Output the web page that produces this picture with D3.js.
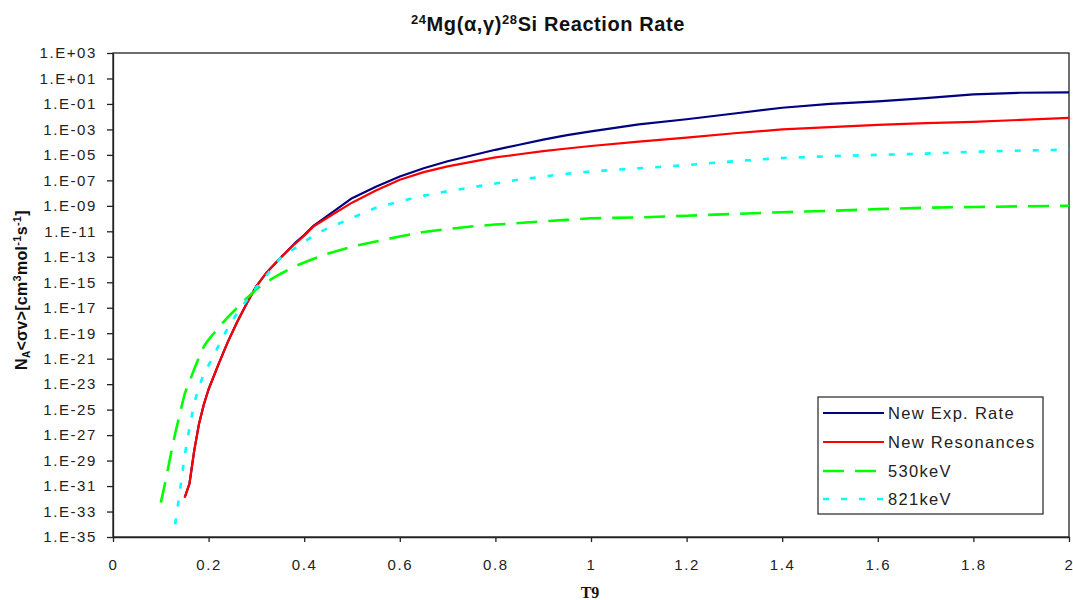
<!DOCTYPE html>
<html><head><meta charset="utf-8">
<script src="https://cdn.jsdelivr.net/npm/d3@7"></script>
<style>
html,body{margin:0;padding:0;background:#fff;}
svg{display:block;font-family:"Liberation Sans",Arial,sans-serif;}
</style></head><body>
<svg id="chart" width="1073" height="600"></svg>
<script>
// ---- data ----
const T9 = [0.10,0.11,0.12,0.13,0.14,0.15,0.16,0.17,0.18,0.19,0.20,0.22,0.24,0.26,0.28,0.30,0.32,0.35,0.38,0.40,0.42,0.45,0.50,0.55,0.60,0.65,0.70,0.75,0.80,0.85,0.90,0.95,1.00,1.1,1.2,1.3,1.4,1.5,1.6,1.7,1.8,1.9,2.0];

const newExpRate = [null,null,null,null,null,
  1.26e-32,1.58e-31,6.31e-29,7.94e-27,2.51e-25,3.98e-24,3.16e-22,2.0e-20,7.94e-19,2.24e-17,5.01e-16,5.01e-15,7.94e-14,
  1.12e-12,5.01e-12,2.82e-11,1.78e-10,3.98e-9,3.16e-8,2.0e-7,8.91e-7,3.16e-6,8.91e-6,2.51e-5,6.31e-5,1.58e-4,3.55e-4,7.08e-4,
  2.51e-3,6.31e-3,1.78e-2,5.01e-2,0.100,0.158,0.282,0.562,0.759,0.813];

const newResonances = [null,null,null,null,null,
  1.26e-32,1.58e-31,6.31e-29,7.94e-27,2.51e-25,3.98e-24,3.16e-22,2.0e-20,7.94e-19,2.24e-17,5.01e-16,5.01e-15,7.94e-14,
  1.0e-12,4.47e-12,2.51e-11,1.26e-10,1.78e-9,1.58e-8,1.12e-7,4.47e-7,1.26e-6,2.82e-6,6.31e-6,1.12e-5,2.0e-5,3.16e-5,5.01e-5,
  1.12e-4,2.24e-4,5.01e-4,1.0e-3,1.51e-3,2.29e-3,3.16e-3,3.98e-3,5.62e-3,7.94e-3];

const res530keV = [5.01e-33,2.51e-31,2.0e-29,1.26e-27,5.01e-26,
  1.78e-24,1.58e-23,1.58e-22,1.26e-21,8.91e-21,3.16e-20,2.51e-19,1.78e-18,1.0e-17,5.62e-17,2.82e-16,1.0e-15,4.47e-15,
  1.78e-14,3.55e-14,7.08e-14,1.78e-13,6.31e-13,1.58e-12,3.98e-12,8.91e-12,1.51e-11,2.40e-11,3.39e-11,4.47e-11,6.03e-11,7.94e-11,1.05e-10,
  1.23e-10,1.66e-10,2.34e-10,3.16e-10,4.07e-10,5.50e-10,7.08e-10,8.13e-10,9.12e-10,1.02e-9];

const res821keV = [null,null,null,1.0e-34,3.98e-32,
  2.51e-29,3.98e-27,3.16e-25,6.31e-24,6.31e-23,3.16e-22,8.91e-21,2.51e-19,3.98e-18,3.98e-17,3.98e-16,3.16e-15,7.94e-14,
  4.47e-13,1.41e-12,5.01e-12,1.78e-11,1.12e-10,7.08e-10,2.24e-9,6.31e-9,1.41e-8,2.82e-8,5.62e-8,1.17e-7,2.0e-7,3.31e-7,5.01e-7,
  8.91e-7,1.58e-6,3.16e-6,5.75e-6,7.94e-6,1.0e-5,1.26e-5,1.78e-5,2.19e-5,2.57e-5];

const seriesNames = ["New Exp. Rate","New Resonances","530keV","821keV"];
const xTickValues = [0,0.2,0.4,0.6,0.8,1,1.2,1.4,1.6,1.8,2];
const yTickExponents = [3,1,-1,-3,-5,-7,-9,-11,-13,-15,-17,-19,-21,-23,-25,-27,-29,-31,-33,-35];

// ---- drawing ----
const svg = d3.select("#chart");
const L = 113, R = 1069, Tp = 53, B = 537;

const x = d3.scaleLinear().domain([0, 2]).range([L, R]);
const y = d3.scaleLog().domain([1e-35, 1e3]).range([B, Tp]);

const seriesData = [newExpRate, newResonances, res530keV, res821keV];
const styles = [
  {color:"#000080", width:2.2, dash:null},
  {color:"#ff0000", width:2.2, dash:null},
  {color:"#00ff00", width:2.6, dash:"21,11"},
  {color:"#00ffff", width:2.6, dash:"6,12"}
];

// frame
svg.append("rect").attr("x", L).attr("y", Tp).attr("width", R - L).attr("height", B - Tp)
  .attr("fill", "none").attr("stroke", "#222").attr("stroke-width", 1.3);

// axes
const fmtY = v => {
  const e = Math.round(Math.log10(v));
  const a = Math.abs(e);
  return "1.E" + (e >= 0 ? "+" : "-") + (a < 10 ? "0" + a : "" + a);
};
const yAxis = d3.axisLeft(y).tickValues(yTickExponents.map(e => Math.pow(10, e)))
  .tickFormat(fmtY).tickSize(6).tickSizeOuter(0).tickPadding(10);
const gy = svg.append("g").attr("transform", `translate(${L},0)`).call(yAxis);
gy.select(".domain").attr("stroke", "#222").attr("stroke-width", 1.3);
gy.selectAll(".tick line").attr("stroke", "#222").attr("stroke-width", 1.3);
gy.selectAll("text").attr("font-size", 15).attr("fill", "#222")
  .attr("letter-spacing", 1.6).attr("font-family", '"Liberation Sans",Arial,sans-serif');

const fmtX = v => d3.format("~g")(v);
const xAxis = d3.axisBottom(x).tickValues(xTickValues).tickFormat(fmtX)
  .tickSize(5).tickSizeOuter(0);
const gx = svg.append("g").attr("transform", `translate(0,${B})`).call(xAxis);
gx.select(".domain").attr("stroke", "#222").attr("stroke-width", 1.3);
gx.selectAll(".tick line").attr("stroke", "#222").attr("stroke-width", 1.3);
gx.selectAll("text").attr("font-size", 15).attr("fill", "#222")
  .attr("letter-spacing", 1.6).attr("font-family", '"Liberation Sans",Arial,sans-serif')
  .attr("dy", null).attr("y", 33);

// lines
const line = d3.line()
  .defined(d => d.v != null)
  .x(d => x(d.t))
  .y(d => y(d.v));

seriesData.forEach((vals, i) => {
  const pts = T9.map((t, k) => ({t: t, v: vals[k]}));
  const p = svg.append("path").datum(pts)
    .attr("fill", "none")
    .attr("stroke", styles[i].color)
    .attr("stroke-width", styles[i].width)
    .attr("stroke-linejoin", "round")
    .attr("d", line);
  if (styles[i].dash) p.attr("stroke-dasharray", styles[i].dash);
});

// legend
const lg = svg.append("g");
lg.append("rect").attr("x", 818).attr("y", 397).attr("width", 225).attr("height", 117)
  .attr("fill", "#fff").attr("stroke", "#222").attr("stroke-width", 1.2);
const legendY = [413, 442, 471, 499];
seriesNames.forEach((n, i) => {
  const ln = lg.append("line").attr("x1", 823).attr("x2", 884)
    .attr("y1", legendY[i]).attr("y2", legendY[i])
    .attr("stroke", styles[i].color).attr("stroke-width", styles[i].width);
  if (styles[i].dash) ln.attr("stroke-dasharray", styles[i].dash);
  lg.append("text").attr("x", 888).attr("y", legendY[i]).attr("dy", "0.35em")
    .attr("font-size", 16.5).attr("letter-spacing", 1.3).attr("fill", "#222").text(n);
});

// title
const title = svg.append("text").attr("x", 548).attr("y", 31).attr("text-anchor", "middle")
  .attr("font-weight", "bold").attr("font-size", 20).attr("letter-spacing", 0.6).attr("fill", "#111");
title.append("tspan").attr("font-size", 13).attr("dy", -7).text("24");
title.append("tspan").attr("dy", 7).text("Mg(α,γ)");
title.append("tspan").attr("font-size", 13).attr("dy", -7).text("28");
title.append("tspan").attr("dy", 7).text("Si Reaction Rate");

// x label
svg.append("text").attr("x", 590).attr("y", 598).attr("text-anchor", "middle")
  .attr("font-family", '"Liberation Serif","Times New Roman",serif')
  .attr("font-weight", "bold").attr("font-size", 16).attr("fill", "#111").text("T9");

// y label
const yl = svg.append("text").attr("transform", "translate(27,290) rotate(-90)")
  .attr("text-anchor", "middle").attr("font-weight", "bold").attr("font-size", 16)
  .attr("letter-spacing", 0.3).attr("fill", "#111");
yl.append("tspan").text("N");
yl.append("tspan").attr("font-size", 10).attr("dy", 3).text("A");
yl.append("tspan").attr("dy", -3).text("<σv>[cm");
yl.append("tspan").attr("font-size", 11).attr("dy", -6).text("3");
yl.append("tspan").attr("dy", 6).text("mol");
yl.append("tspan").attr("font-size", 11).attr("dy", -6).text("-1");
yl.append("tspan").attr("dy", 6).text("s");
yl.append("tspan").attr("font-size", 11).attr("dy", -6).text("-1");
yl.append("tspan").attr("dy", 6).text("]");
</script>
</body></html>
